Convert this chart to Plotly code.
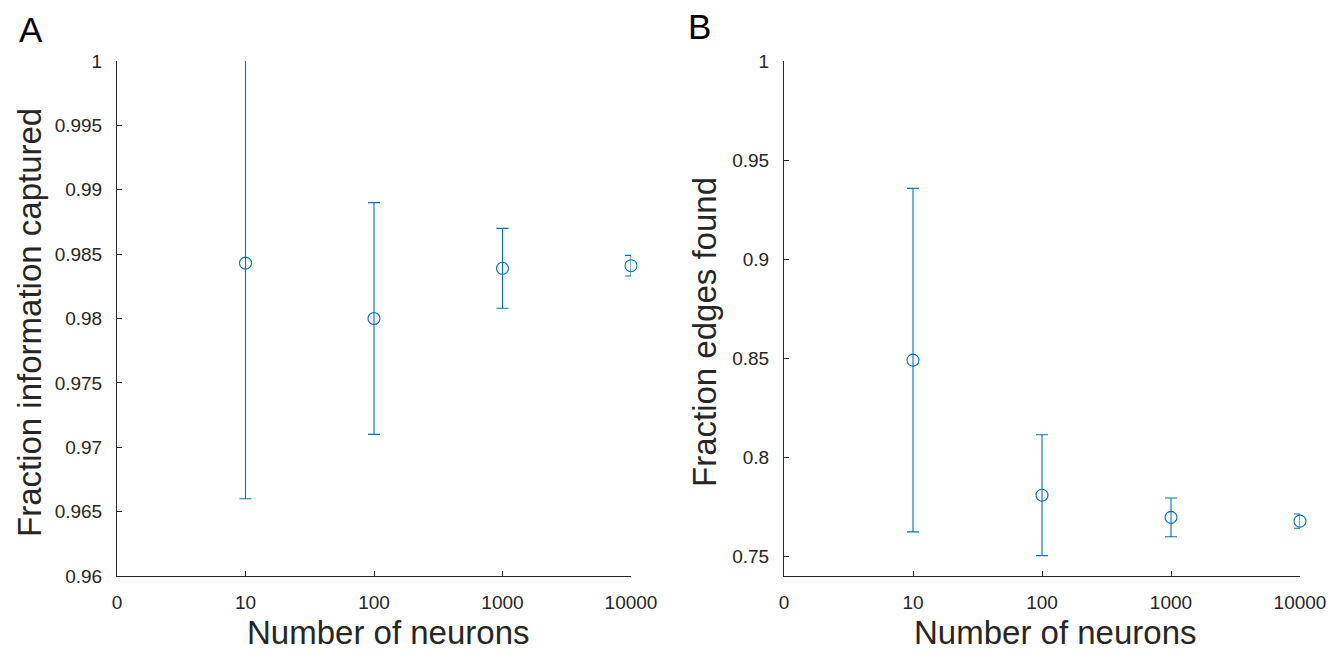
import numpy as np
import plotly.graph_objects as go

# ---- data ----
neurons = [10, 100, 1000, 10000]
tick_labels = ["0", "10", "100", "1000", "10000"]

info_mean = [0.9843, 0.9800, 0.9839, 0.9841]
info_err = [0.0183, 0.0090, 0.0031, 0.0008]

edges_mean = [0.8490, 0.7808, 0.7696, 0.7677]
edges_err = [0.0867, 0.0305, 0.0098, 0.0036]

ticks_a = [0.96, 0.965, 0.97, 0.975, 0.98, 0.985, 0.99, 0.995, 1.0]
ticks_b = [0.75, 0.8, 0.85, 0.9, 0.95, 1.0]
range_a = [0.96, 1.0]
range_b = [0.74, 1.0]

xtitle = "Number of neurons"
ytitle_a = "Fraction information captured"
ytitle_b = "Fraction edges found"

xpos = np.log10(neurons)
tickpos = [0] + list(xpos)

BLUE = "#0072BD"
AX = "#262626"
FONT = "Liberation Sans, Arial, Helvetica, sans-serif"

fig = go.Figure()

def add_series(y, err, xa, ya, yr):
    y = np.array(y)
    err = np.array(err)
    over = (y + err > yr[1]) | (y - err < yr[0])
    for mask, clip in ((over, True), (~over, False)):
        if not mask.any():
            continue
        fig.add_trace(go.Scatter(
            x=xpos[mask], y=y[mask], mode="markers", xaxis=xa, yaxis=ya,
            cliponaxis=clip,
            marker=dict(symbol="circle-open", size=12, color=BLUE, line=dict(width=1.1, color=BLUE)),
            error_y=dict(type="data", array=err[mask], symmetric=True, color=BLUE, thickness=1.1, width=6),
            showlegend=False, hoverinfo="x+y",
        ))

add_series(info_mean, info_err, "x", "y", range_a)
add_series(edges_mean, edges_err, "x2", "y2", range_b)

W, H = 1338, 654
def xd(a, b):
    return [a / W, b / W]
ydom = [1 - 576 / H, 1 - 61 / H]

xcommon = dict(range=[0, 4], tickmode="array", tickvals=tickpos, ticktext=tick_labels,
               showline=True, linecolor=AX, linewidth=1, ticks="inside", ticklen=5,
               tickcolor=AX, tickwidth=1, showgrid=False, zeroline=False, automargin=False,
               tickfont=dict(size=19, color=AX, family=FONT), ticklabelstandoff=9)
ycommon = dict(showline=True, linecolor=AX, linewidth=1, ticks="inside", ticklen=5,
               tickcolor=AX, tickwidth=1, showgrid=False, zeroline=False, automargin=False,
               tickfont=dict(size=19, color=AX, family=FONT), ticklabelstandoff=10,
               tickmode="array")

def ann(text, x, y, size, color, angle=0, xanchor="center", yanchor="middle"):
    return dict(text=text, x=x / W, y=1 - y / H, xref="paper", yref="paper",
                xanchor=xanchor, yanchor=yanchor, textangle=angle, showarrow=False,
                borderpad=0, font=dict(size=size, color=color, family=FONT))

fig.update_layout(
    width=W, height=H,
    margin=dict(l=0, r=0, t=0, b=0),
    paper_bgcolor="white", plot_bgcolor="white",
    font=dict(family=FONT, color=AX),
    xaxis=dict(domain=xd(117, 631), anchor="y", **xcommon),
    xaxis2=dict(domain=xd(784, 1300), anchor="y2", **xcommon),
    yaxis=dict(domain=ydom, anchor="x", range=range_a, tickvals=ticks_a, **ycommon),
    yaxis2=dict(domain=ydom, anchor="x2", range=range_b, tickvals=ticks_b, **ycommon),
    annotations=[
        ann(xtitle, 388, 632, 33, AX),
        ann(xtitle, 1055, 632, 33, AX),
        ann(ytitle_a, 29, 323, 33, AX, angle=-90),
        ann(ytitle_b, 704, 332, 33, AX, angle=-90),
        ann("A", 18, 9, 35, "black", xanchor="left", yanchor="top"),
        ann("B", 687, 6, 35, "black", xanchor="left", yanchor="top"),
    ],
)

fig.write_html("out.html")
